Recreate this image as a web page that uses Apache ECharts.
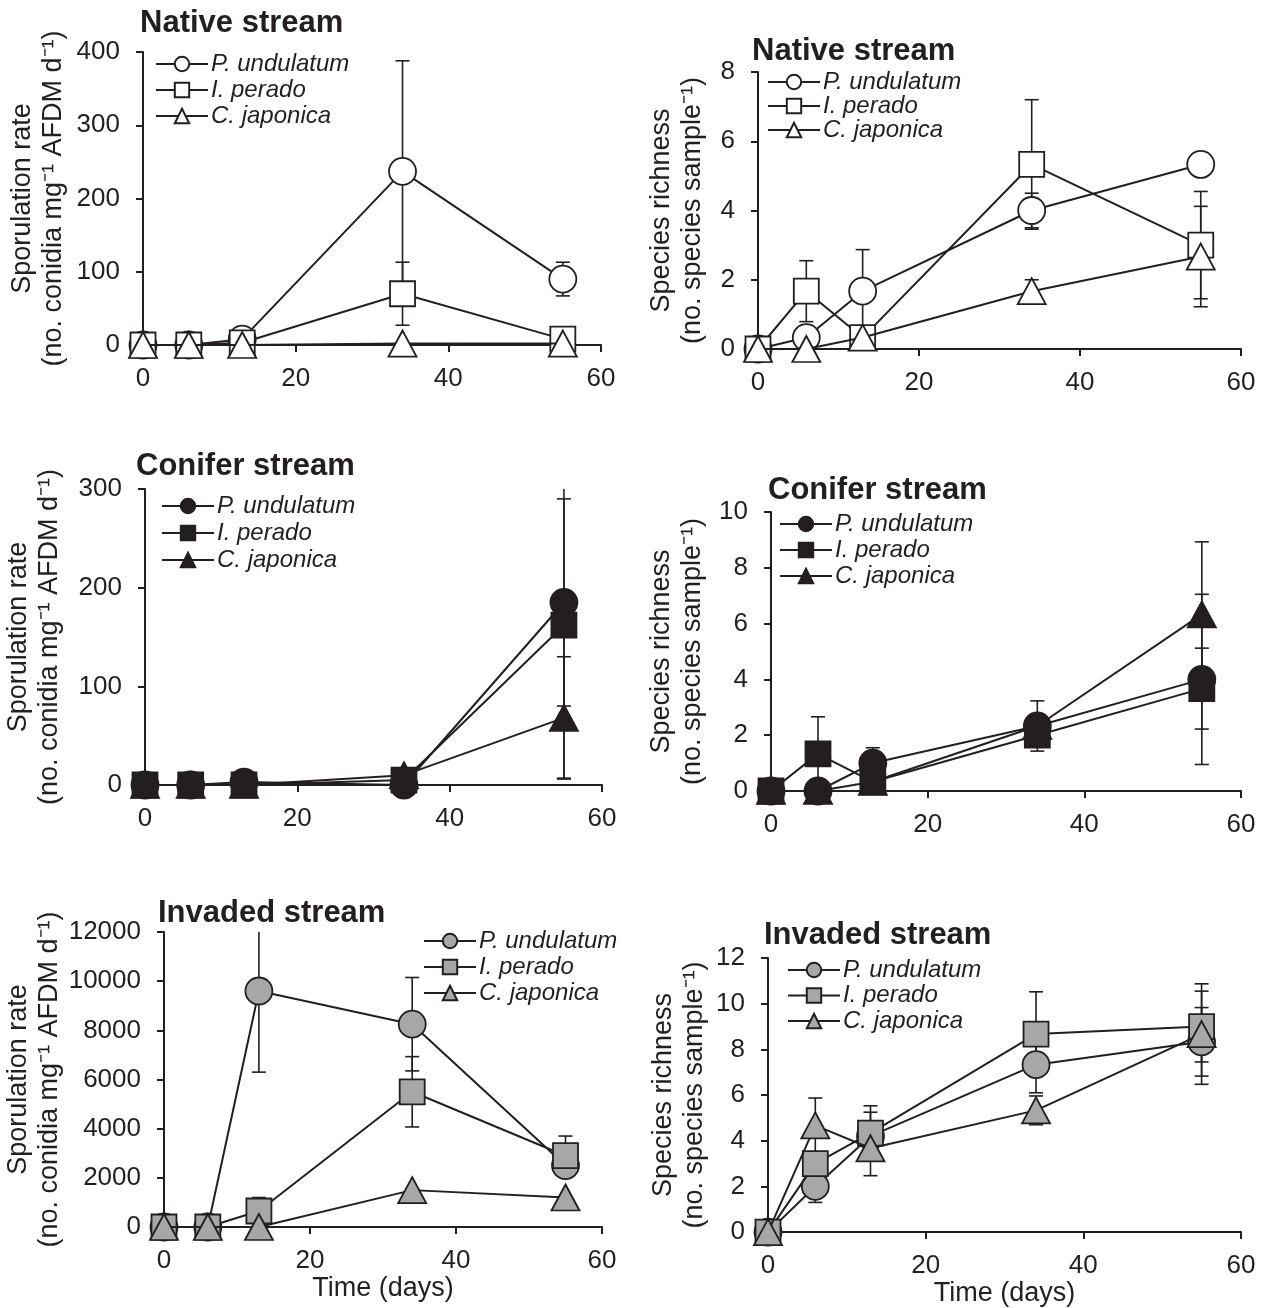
<!DOCTYPE html>
<html>
<head>
<meta charset="utf-8">
<script src="https://cdn.jsdelivr.net/npm/echarts@6/dist/echarts.min.js"></script>
<style>
  html, body { margin: 0; padding: 0; background: #fff; }
  #main { width: 1265px; height: 1308px; }
</style>
</head>
<body>
<div id="main"></div>
<script>
// sampling days
var days = [0, 6, 13, 34, 55];
var speciesNames = ['P. undulatum', 'I. perado', 'C. japonica'];

// Native stream - sporulation rate
var nativeSporPU = [0, 0, 8, 237, 90];
var nativeSporPUErr = [0, 0, 0, 151, 23];
var nativeSporIP = [0, 0, 3, 70, 8];
var nativeSporIPErr = [0, 0, 0, 43, 0];
var nativeSporCJ = [0, 0, 0, 2, 2];
var nativeSporCJErr = [0, 0, 0, 0, 0];

// Native stream - species richness
var nativeRichPU = [0, 0.33, 1.67, 4, 5.33];
var nativeRichPUErr = [0, 0, 1.2, 0.5, 0];
var nativeRichIP = [0, 1.67, 0.33, 5.33, 3];
var nativeRichIPErr = [0, 0.88, 0, 1.87, 1.55];
var nativeRichCJ = [0, 0, 0.33, 1.67, 2.67];
var nativeRichCJErr = [0, 0, 0, 0.33, 1.45];

// Conifer stream - sporulation rate
var coniferSporPU = [0, 0, 3, 0, 185];
var coniferSporPUErr = [0, 0, 0, 0, 105];
var coniferSporIP = [0, 0, 0, 5, 162];
var coniferSporIPErr = [0, 0, 0, 0, 155];
var coniferSporCJ = [0, 0, 0, 10, 68];
var coniferSporCJErr = [0, 0, 0, 0, 62];

// Conifer stream - species richness
var coniferRichPU = [0, 0, 1, 2.33, 4];
var coniferRichPUErr = [0, 0, 0.55, 0.9, 3.05];
var coniferRichIP = [0, 1.33, 0.33, 2, 3.67];
var coniferRichIPErr = [0, 1.33, 0, 0, 1.45];
var coniferRichCJ = [0, 0, 0.33, 2.33, 6.33];
var coniferRichCJErr = [0, 0, 0, 0, 2.6];

// Invaded stream - sporulation rate
var invadedSporPU = [0, 0, 9600, 8250, 2500];
var invadedSporPUErr = [0, 0, 3300, 1900, 0];
var invadedSporIP = [0, 0, 650, 5500, 2900];
var invadedSporIPErr = [0, 0, 550, 1430, 800];
var invadedSporCJ = [0, 0, 0, 1500, 1200];
var invadedSporCJErr = [0, 0, 0, 0, 0];

// Invaded stream - species richness
var invadedRichPU = [0, 2, 4.2, 7.33, 8.33];
var invadedRichPUErr = [0, 0.7, 1.05, 1.23, 1.5];
var invadedRichIP = [0, 3, 4.33, 8.67, 9];
var invadedRichIPErr = [0, 0, 1.2, 1.85, 1.55];
var invadedRichCJ = [0, 4.67, 3.67, 5.33, 8.67];
var invadedRichCJErr = [0, 1.2, 1.2, 0.63, 2.2];

var sporName = 'Sporulation rate\n(no. conidia mg\u207B\u00B9 AFDM d\u207B\u00B9)';
var richName = 'Species richness\n(no. species sample\u207B\u00B9)';

var ink = '#231f20';
var font = '"Liberation Sans", Arial, sans-serif';

var panels = [
  { title: 'Native stream', fill: '#ffffff', yName: sporName, yMax: 400, yStep: 100,
    grid: [143, 52, 458, 293], titlePos: [140, 8], legendPos: [155, 52], legendGap: 2, nameGap: 74,
    series: [[nativeSporPU, nativeSporPUErr], [nativeSporIP, nativeSporIPErr], [nativeSporCJ, nativeSporCJErr]] },
  { title: 'Native stream', fill: '#ffffff', yName: richName, yMax: 8, yStep: 2,
    grid: [758, 72, 483, 277], titlePos: [752, 36], legendPos: [767, 70], legendGap: 0, nameGap: 50,
    series: [[nativeRichPU, nativeRichPUErr], [nativeRichIP, nativeRichIPErr], [nativeRichCJ, nativeRichCJErr]] },
  { title: 'Conifer stream', fill: ink, yName: sporName, yMax: 300, yStep: 100,
    grid: [145, 489, 457, 296], titlePos: [136, 451], legendPos: [161, 494], legendGap: 3, nameGap: 80,
    series: [[coniferSporPU, coniferSporPUErr], [coniferSporIP, coniferSporIPErr], [coniferSporCJ, coniferSporCJErr]] },
  { title: 'Conifer stream', fill: ink, yName: richName, yMax: 10, yStep: 2,
    grid: [771, 512, 470, 279], titlePos: [768, 475], legendPos: [779, 512], legendGap: 2, nameGap: 63,
    series: [[coniferRichPU, coniferRichPUErr], [coniferRichIP, coniferRichIPErr], [coniferRichCJ, coniferRichCJErr]] },
  { title: 'Invaded stream', fill: '#a7a7a7', yName: sporName, yMax: 12000, yStep: 2000, xName: 'Time (days)',
    grid: [164, 932, 438, 295], titlePos: [158, 898], legendPos: [423, 929], legendGap: 2, nameGap: 99,
    series: [[invadedSporPU, invadedSporPUErr], [invadedSporIP, invadedSporIPErr], [invadedSporCJ, invadedSporCJErr]] },
  { title: 'Invaded stream', fill: '#a7a7a7', yName: richName, yMax: 12, yStep: 2, xName: 'Time (days)',
    grid: [768, 958, 473, 275], titlePos: [764, 920], legendPos: [787, 958], legendGap: 1.5, nameGap: 58,
    series: [[invadedRichPU, invadedRichPUErr], [invadedRichIP, invadedRichIPErr], [invadedRichCJ, invadedRichCJErr]] }
];

var symbols = ['circle', 'rect', 'triangle'];
var symbolSizes = [27, 25, [28, 26]];

function errorBars(gi, means, errs, yMax) {
  var pts = [];
  days.forEach(function (d, i) {
    if (errs[i] > 0) pts.push([d, means[i], errs[i]]);
  });
  return {
    type: 'custom',
    xAxisIndex: gi,
    yAxisIndex: gi,
    z: 1,
    silent: true,
    data: pts,
    renderItem: function (params, api) {
      var x = api.value(0), m = api.value(1), e = api.value(2);
      var hi = Math.min(m + e, yMax), lo = Math.max(m - e, 0);
      var top = api.coord([x, hi]);
      var bot = api.coord([x, lo]);
      var cw = 7;
      var st = { stroke: ink, lineWidth: 1.6 };
      var kids = [{ type: 'line', shape: { x1: top[0], y1: top[1], x2: bot[0], y2: bot[1] }, style: st }];
      if (m + e <= yMax) kids.push({ type: 'line', shape: { x1: top[0] - cw, y1: top[1], x2: top[0] + cw, y2: top[1] }, style: st });
      if (m - e >= 0) kids.push({ type: 'line', shape: { x1: bot[0] - cw, y1: bot[1], x2: bot[0] + cw, y2: bot[1] }, style: st });
      return { type: 'group', children: kids };
    }
  };
}

var grids = [], xAxes = [], yAxes = [], titles = [], legends = [], series = [];

panels.forEach(function (p, gi) {
  grids.push({ left: p.grid[0], top: p.grid[1], width: p.grid[2], height: p.grid[3], containLabel: false });
  titles.push({
    text: p.title, left: p.titlePos[0], top: p.titlePos[1], padding: 0,
    textStyle: { fontFamily: font, fontWeight: 'bold', fontSize: 31, color: ink }
  });
  xAxes.push({
    type: 'value', gridIndex: gi, min: 0, max: 60, interval: 20,
    name: p.xName || '', nameLocation: 'middle', nameGap: 46,
    nameTextStyle: { fontFamily: font, fontSize: 27, color: ink },
    axisLine: { show: true, onZero: false, lineStyle: { color: ink, width: 2 } },
    axisTick: { show: true, inside: false, length: 7, lineStyle: { color: ink, width: 2 } },
    axisLabel: { fontFamily: font, fontSize: 26, color: ink, margin: 21 },
    splitLine: { show: false }
  });
  yAxes.push({
    type: 'value', gridIndex: gi, min: 0, max: p.yMax, interval: p.yStep,
    name: p.yName, nameLocation: 'middle', nameRotate: 90, nameGap: p.nameGap,
    nameTextStyle: { fontFamily: font, fontSize: 27, color: ink, lineHeight: 31, align: 'center' },
    axisLine: { show: true, lineStyle: { color: ink, width: 2 } },
    axisTick: { show: true, inside: false, length: 7, lineStyle: { color: ink, width: 2 } },
    axisLabel: { fontFamily: font, fontSize: 26, color: ink, margin: 23,
      formatter: function (v) { return String(v); } },
    splitLine: { show: false }
  });
  var legendData = [];
  p.series.forEach(function (s, si) {
    var nm = speciesNames[si] + '#' + gi;
    legendData.push(nm);
    series.push(errorBars(gi, s[0], s[1], p.yMax));
    series.push({
      type: 'line',
      name: nm,
      xAxisIndex: gi,
      yAxisIndex: gi,
      z: 2 + si,
      data: days.map(function (d, i) { return [d, s[0][i]]; }),
      symbol: symbols[si],
      symbolSize: symbolSizes[si],
      lineStyle: { color: ink, width: 2 },
      itemStyle: { color: p.fill, borderColor: ink, borderWidth: 1.8 },
      emphasis: { disabled: true }
    });
  });
  legends.push({
    data: legendData,
    orient: 'vertical',
    left: p.legendPos[0],
    top: p.legendPos[1],
    padding: 0,
    itemWidth: 52,
    itemHeight: 18,
    itemGap: p.legendGap,
    selectedMode: false,
    formatter: function (n) { return n.split('#')[0]; },
    textStyle: { fontFamily: font, fontStyle: 'italic', fontSize: 24, color: ink, lineHeight: 22, padding: [0, 0, 0, -2] }
  });
});

var chart = echarts.init(document.getElementById('main'), null, { renderer: 'canvas' });
chart.setOption({
  backgroundColor: '#ffffff',
  animation: false,
  title: titles,
  legend: legends,
  grid: grids,
  xAxis: xAxes,
  yAxis: yAxes,
  series: series
});
</script>
</body>
</html>
